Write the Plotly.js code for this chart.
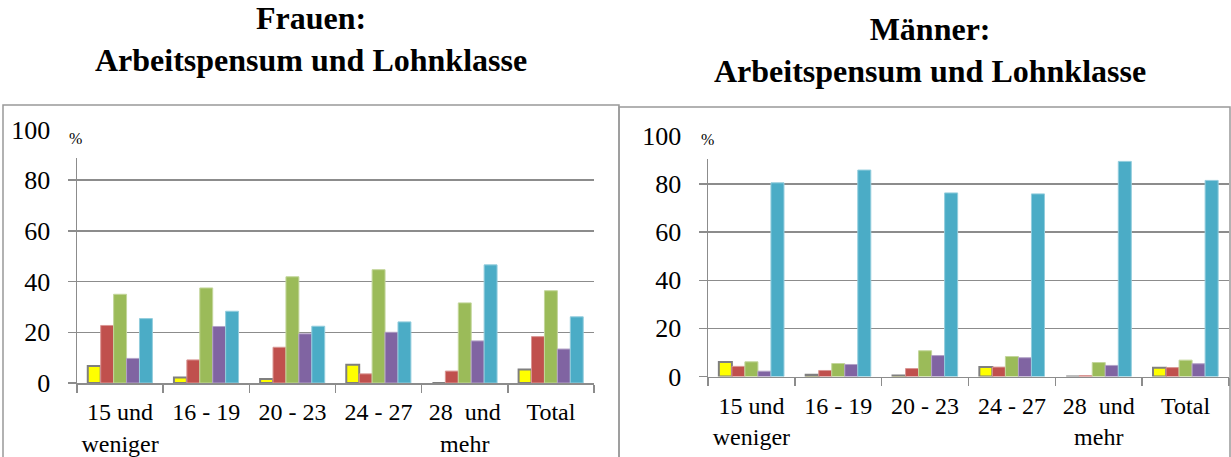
<!DOCTYPE html>
<html>
<head>
<meta charset="utf-8">
<script src="https://cdn.plot.ly/plotly-3.0.1.min.js"></script>
<style>
  html, body { margin: 0; padding: 0; background: #fff; }
  #chart { width: 1231px; height: 457px; }
</style>
</head>
<body>
<div id="chart"></div>
<script>
// Categories (Lohnklasse)
const categories = ["15 und<br>weniger", "16 - 19", "20 - 23", "24 - 27", "28\u00a0 und<br>mehr", "Total"];

// Series names (Arbeitspensum groups, unlabeled in the reference)
const seriesNames = ["Gruppe 1", "Gruppe 2", "Gruppe 3", "Gruppe 4", "Gruppe 5"];

// Frauen (%)
const frauenS1 = [6.7, 2.2, 1.6, 7.2, 0.0, 5.3];
const frauenS2 = [22.7, 9.1, 14.1, 3.6, 4.7, 18.3];
const frauenS3 = [35.0, 37.5, 41.9, 44.7, 31.6, 36.4];
const frauenS4 = [9.7, 22.3, 19.4, 20.0, 16.6, 13.4];
const frauenS5 = [25.4, 28.3, 22.4, 24.1, 46.6, 26.1];

// Männer (%)
const maennerS1 = [6.0, 0.7, 0.4, 3.9, 0.0, 3.6];
const maennerS2 = [4.2, 2.5, 3.3, 3.9, 0.4, 3.7];
const maennerS3 = [6.1, 5.4, 10.7, 8.3, 5.8, 6.8];
const maennerS4 = [2.2, 5.0, 8.7, 7.8, 4.6, 5.3];
const maennerS5 = [80.5, 85.8, 76.3, 75.9, 89.4, 81.5];

const yTicks = [0, 20, 40, 60, 80, 100];

const fillColors = ["#FFFF00", "#C0504D", "#9BBB59", "#8064A2", "#4BACC6"];
const lineColors = ["#7F7F7F", "#D99694", "#C3D69B", "#B3A2C7", "#93CDDD"];
const lineWidths = [2, 1, 1, 1, 1];

const frauen = [frauenS1, frauenS2, frauenS3, frauenS4, frauenS5];
const maenner = [maennerS1, maennerS2, maennerS3, maennerS4, maennerS5];

const W = 1231, H = 457;
const px = v => v / W;
const py = v => 1 - v / H;

const traces = [];
function addSeries(arr, xa, ya) {
  arr.forEach((vals, i) => {
    traces.push({
      type: "bar",
      x: categories,
      y: vals,
      name: seriesNames[i],
      xaxis: xa, yaxis: ya,
      marker: { color: fillColors[i], line: { color: lineColors[i], width: lineWidths[i] } },
      showlegend: false,
      hoverinfo: "x+y+name"
    });
  });
}
addSeries(frauen, "x", "y");
addSeries(maenner, "x2", "y2");

const serif = "Liberation Serif, Times New Roman, serif";
const gridC = "#8C8C8C";

function yAxis(domain, anchor) {
  return {
    domain: domain, anchor: anchor,
    range: [0, 100], tickvals: yTicks, ticktext: yTicks.map(String),
    showgrid: true, gridcolor: gridC, gridwidth: 1.5,
    showline: true, linecolor: gridC, linewidth: 1.5,
    ticks: "outside", ticklen: 8, tickcolor: gridC, tickwidth: 1.5,
    ticklabelstandoff: 12,
    zeroline: false,
    tickfont: { family: serif, size: 26, color: "#000" },
    fixedrange: true
  };
}
function xAxis(domain, anchor) {
  return {
    domain: domain, anchor: anchor,
    type: "category",
    showline: true, linecolor: gridC, linewidth: 1.5,
    ticks: "outside", tickson: "boundaries", ticklen: 8, tickcolor: gridC, tickwidth: 1.5,
    tickangle: 0,
    ticklabelstandoff: 7,
    showgrid: false, zeroline: false,
    tickfont: { family: serif, size: 24, color: "#000" },
    fixedrange: true
  };
}

const layout = {
  width: W, height: H,
  margin: { l: 0, r: 0, t: 0, b: 0 },
  paper_bgcolor: "#fff", plot_bgcolor: "#fff",
  barmode: "group", bargap: 0.25, bargroupgap: 0,
  xaxis: xAxis([px(77), px(594)], "y"),
  yaxis: yAxis([py(383), py(129.5)], "x"),
  xaxis2: xAxis([px(708), px(1229)], "y2"),
  yaxis2: yAxis([py(376.5), py(135.9)], "x2"),
  shapes: [
    // chart frames
    { type: "rect", xref: "paper", yref: "paper", x0: px(3), x1: px(619), y0: py(470), y1: py(105),
      line: { color: "#999999", width: 1.5 }, fillcolor: "rgba(0,0,0,0)", layer: "above" },
    { type: "rect", xref: "paper", yref: "paper", x0: px(619), x1: px(1230), y0: py(470), y1: py(107),
      line: { color: "#999999", width: 1.5 }, fillcolor: "rgba(0,0,0,0)", layer: "above" },
    // white boxes behind the "%" labels
    { type: "rect", xref: "paper", yref: "paper", x0: px(62), x1: px(94), y0: py(158), y1: py(118),
      line: { width: 0 }, fillcolor: "#fff", layer: "above" },
    { type: "rect", xref: "paper", yref: "paper", x0: px(690), x1: px(725), y0: py(159), y1: py(122),
      line: { width: 0 }, fillcolor: "#fff", layer: "above" }
  ],
  annotations: [
    { xref: "paper", yref: "paper", x: px(311), y: py(39), xanchor: "center", yanchor: "middle",
      text: "<b>Frauen:</b><br><b>Arbeitspensum und Lohnklasse</b>", showarrow: false,
      font: { family: serif, size: 32, color: "#000" } },
    { xref: "paper", yref: "paper", x: px(930), y: py(50), xanchor: "center", yanchor: "middle",
      text: "<b>Männer:</b><br><b>Arbeitspensum und Lohnklasse</b>", showarrow: false,
      font: { family: serif, size: 32, color: "#000" } },
    { xref: "paper", yref: "paper", x: px(75), y: py(138), xanchor: "center", yanchor: "middle",
      text: "%", showarrow: false, font: { family: serif, size: 16, color: "#000" } },
    { xref: "paper", yref: "paper", x: px(707), y: py(139), xanchor: "center", yanchor: "middle",
      text: "%", showarrow: false, font: { family: serif, size: 16, color: "#000" } }
  ]
};

Plotly.newPlot("chart", traces, layout, { displayModeBar: false, staticPlot: true });
</script>
</body>
</html>
